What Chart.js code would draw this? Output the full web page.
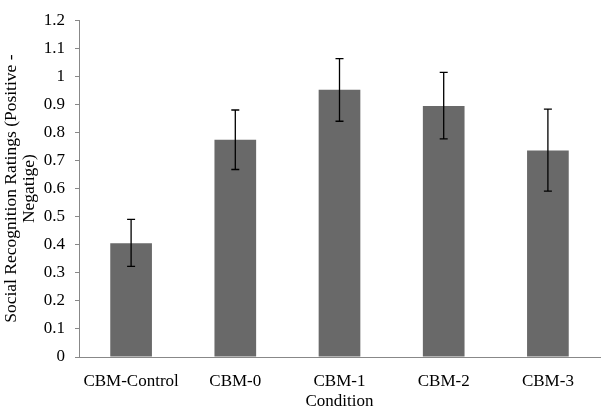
<!DOCTYPE html>
<html>
<head>
    <title>Social Recognition Ratings</title>
    <script src="https://cdn.jsdelivr.net/npm/chart.js"></script>
    <style>
        body {
            margin: 0;
            background-color: white;
        }
        .chart-container {
            width: 601px;
            height: 412px;
        }
    </style>
</head>
<body>
    <div class="chart-container">
        <canvas id="ratingChart"></canvas>
    </div>

    <script>
        // Data
        const conditions = ['CBM-Control', 'CBM-0', 'CBM-1', 'CBM-2', 'CBM-3'];
        const means = [0.405, 0.774, 0.952, 0.894, 0.736];
        const errUpper = [0.490, 0.880, 1.063, 1.014, 0.883];
        const errLower = [0.323, 0.668, 0.840, 0.777, 0.591];

        const serif = "'Liberation Serif', 'Times New Roman', serif";

        // Draw error bars on top of the bars
        const errorBars = {
            id: 'errorBars',
            afterDatasetsDraw(chart) {
                const ctx = chart.ctx;
                const x = chart.scales.x;
                const y = chart.scales.y;
                ctx.save();
                ctx.strokeStyle = '#000';
                ctx.lineWidth = 1.3;
                conditions.forEach((c, i) => {
                    const px = x.getPixelForValue(i);
                    const top = y.getPixelForValue(errUpper[i]);
                    const bot = y.getPixelForValue(errLower[i]);
                    ctx.beginPath();
                    ctx.moveTo(px, top);
                    ctx.lineTo(px, bot);
                    ctx.moveTo(px - 4, top);
                    ctx.lineTo(px + 4, top);
                    ctx.moveTo(px - 4, bot);
                    ctx.lineTo(px + 4, bot);
                    ctx.stroke();
                });
                ctx.restore();
            }
        };

        const ctx = document.getElementById('ratingChart').getContext('2d');
        new Chart(ctx, {
            type: 'bar',
            data: {
                labels: conditions,
                datasets: [{
                    data: means,
                    backgroundColor: '#696969',
                    borderWidth: 0,
                    barPercentage: 0.4,
                    categoryPercentage: 1.0
                }]
            },
            options: {
                responsive: true,
                maintainAspectRatio: false,
                animation: false,
                layout: {
                    padding: { top: 9, right: 1, left: 0, bottom: 0 }
                },
                plugins: {
                    legend: { display: false },
                    tooltip: { enabled: false }
                },
                scales: {
                    x: {
                        grid: { display: false },
                        border: { color: '#888', width: 1 },
                        ticks: {
                            color: '#000',
                            font: { family: serif, size: 17 },
                            padding: 6,
                            maxRotation: 0
                        },
                        title: {
                            display: true,
                            text: 'Condition',
                            color: '#000',
                            font: { family: serif, size: 17 },
                            padding: { top: 5, bottom: 0 }
                        },
                        afterFit(scale) { scale.height = 55; }
                    },
                    y: {
                        min: 0,
                        max: 1.2,
                        ticks: {
                            stepSize: 0.1,
                            color: '#000',
                            font: { family: serif, size: 17 },
                            padding: 10,
                            callback: v => Math.round(v * 10) / 10
                        },
                        grid: {
                            drawOnChartArea: false,
                            tickLength: 4,
                            color: '#888'
                        },
                        border: { color: '#888', width: 1 },
                        title: {
                            display: true,
                            text: ['Social Recognition Ratings (Positive -', 'Negatige)'],
                            color: '#000',
                            font: { family: serif, size: 17.5, lineHeight: 1.05 },
                            padding: { top: 2, bottom: 0 }
                        },
                        afterFit(scale) { scale.width = 79; }
                    }
                }
            },
            plugins: [errorBars]
        });
    </script>
</body>
</html>
